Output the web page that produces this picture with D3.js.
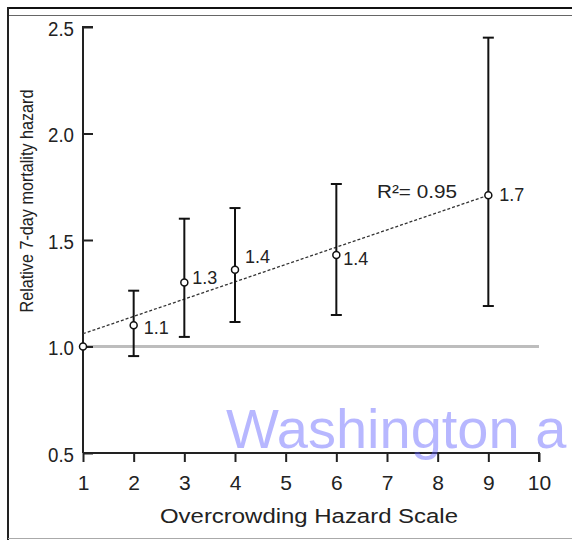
<!DOCTYPE html>
<html><head><meta charset="utf-8">
<script src="https://cdn.jsdelivr.net/npm/d3@7"></script>
<style>body{margin:0;background:#fff;}svg{display:block;}text{font-family:"Liberation Sans",Arial,sans-serif;}</style>
</head><body>
<script>
const scaleX = [1, 2, 3, 4, 6, 9];
const hazard = [1.0, 1.10, 1.30, 1.36, 1.43, 1.71];
const lower = [null, 0.955, 1.045, 1.115, 1.148, 1.19];
const upper = [null, 1.262, 1.60, 1.65, 1.763, 2.45];
const pointLabels = ["", "1.1", "1.3", "1.4", "1.4", "1.7"];
const xTicks = [1, 2, 3, 4, 5, 6, 7, 8, 9, 10];
const yTicks = [0.5, 1.0, 1.5, 2.0, 2.5];
const trendEnds = [[1, 1.06], [9, 1.71]];
const r2Label = "R²= 0.95";

const W = 572, H = 540;
const svg = d3.select("body").append("svg").attr("width", W).attr("height", H);
const x = d3.scaleLinear().domain([1, 10]).range([83, 539]);
const y = d3.scaleLinear().domain([0.5, 2.5]).range([453, 27]);

// frame
svg.append("line").attr("x1", 8).attr("x2", W).attr("y1", 8).attr("y2", 8).attr("stroke", "#111").attr("stroke-width", 2);
svg.append("line").attr("x1", 8).attr("x2", W).attr("y1", 15.5).attr("y2", 15.5).attr("stroke", "#666").attr("stroke-width", 1);
svg.append("line").attr("x1", 8).attr("x2", 8).attr("y1", 7).attr("y2", H).attr("stroke", "#222").attr("stroke-width", 2);
svg.append("line").attr("x1", 8).attr("x2", W).attr("y1", 538.5).attr("y2", 538.5).attr("stroke", "#aaa").attr("stroke-width", 1);

// reference line at 1.0
svg.append("line").attr("x1", x(1)).attr("x2", x(10)).attr("y1", y(1)).attr("y2", y(1))
  .attr("stroke", "#bdbdbd").attr("stroke-width", 3);

// axes
const yAxis = d3.axisRight(y).tickValues(yTicks).tickSize(10).tickFormat(d3.format(".1f"));
const gy = svg.append("g").attr("transform", `translate(${x(1)},0)`).call(yAxis);
gy.select(".domain").attr("stroke", "#222").attr("stroke-width", 2).attr("d", `M10,${y(2.5)}H0V${y(0.5)}`);
gy.selectAll(".tick line").attr("stroke", "#222").attr("stroke-width", 2);
gy.selectAll(".tick text").attr("x", -9).attr("dy", "0.42em").attr("text-anchor", "end").attr("font-size", 20)
  .attr("textLength", 26).attr("lengthAdjust", "spacingAndGlyphs").attr("fill", "#222");

const xAxis = d3.axisBottom(x).tickValues(xTicks).tickSize(9).tickFormat(d3.format("d"));
const gx = svg.append("g").attr("transform", `translate(0,${y(0.5)})`).call(xAxis);
gx.select(".domain").attr("stroke", "#222").attr("stroke-width", 2).attr("d", `M${x(1)},0H${x(10)}V9`);
gx.selectAll(".tick line").attr("stroke", "#222").attr("stroke-width", 2);
gx.selectAll(".tick text").attr("y", 37).attr("dy", null).attr("font-size", 21).attr("fill", "#222");

// axis titles
svg.append("text").attr("x", 309).attr("y", 523).attr("text-anchor", "middle").attr("font-size", 20.5)
  .attr("textLength", 298).attr("lengthAdjust", "spacingAndGlyphs").attr("fill", "#222")
  .text("Overcrowding Hazard Scale");
svg.append("text").attr("transform", "translate(33,201) rotate(-90)").attr("text-anchor", "middle").attr("font-size", 19)
  .attr("textLength", 223).attr("lengthAdjust", "spacingAndGlyphs").attr("fill", "#222")
  .text("Relative 7-day mortality hazard");

// trend line
svg.append("line").attr("x1", x(trendEnds[0][0])).attr("y1", y(trendEnds[0][1]))
  .attr("x2", x(trendEnds[1][0])).attr("y2", y(trendEnds[1][1]))
  .attr("stroke", "#333").attr("stroke-width", 1.3).attr("stroke-dasharray", "3,2");

// error bars
const data = scaleX.map((d, i) => ({x: d, v: hazard[i], lo: lower[i], hi: upper[i], lab: pointLabels[i], i}));
const eb = svg.append("g").selectAll("g").data(data.filter(d => d.lo !== null)).join("g");
eb.append("line").attr("x1", d => x(d.x)).attr("x2", d => x(d.x)).attr("y1", d => y(d.lo)).attr("y2", d => y(d.hi))
  .attr("stroke", "#111").attr("stroke-width", 2);
eb.append("line").attr("x1", d => x(d.x) - 5.5).attr("x2", d => x(d.x) + 5.5).attr("y1", d => y(d.lo)).attr("y2", d => y(d.lo))
  .attr("stroke", "#111").attr("stroke-width", 2);
eb.append("line").attr("x1", d => x(d.x) - 5.5).attr("x2", d => x(d.x) + 5.5).attr("y1", d => y(d.hi)).attr("y2", d => y(d.hi))
  .attr("stroke", "#111").attr("stroke-width", 2);

// points
svg.append("g").selectAll("circle").data(data).join("circle")
  .attr("cx", d => x(d.x)).attr("cy", d => y(d.v)).attr("r", 3.5)
  .attr("fill", "#fff").attr("stroke", "#111").attr("stroke-width", 1.5);

// point labels
const labOff = {1: [10, 9], 2: [8, 1], 3: [10, -7], 4: [7, 10], 5: [11, 6]};
svg.append("g").selectAll("text").data(data.filter(d => d.lab)).join("text")
  .attr("x", d => x(d.x) + labOff[d.i][0]).attr("y", d => y(d.v) + labOff[d.i][1])
  .attr("font-size", 19).attr("textLength", 25).attr("lengthAdjust", "spacingAndGlyphs").attr("fill", "#222").text(d => d.lab);

svg.append("text").attr("x", 377).attr("y", 198).attr("font-size", 18.5).attr("textLength", 80).attr("lengthAdjust", "spacingAndGlyphs")
  .attr("fill", "#222").text(r2Label);

// watermark
svg.append("text").attr("x", 226).attr("y", 448).attr("font-size", 56).attr("fill", "rgb(95,95,255)").attr("fill-opacity", 0.45)
  .text("Washington a");
</script>
</body></html>
